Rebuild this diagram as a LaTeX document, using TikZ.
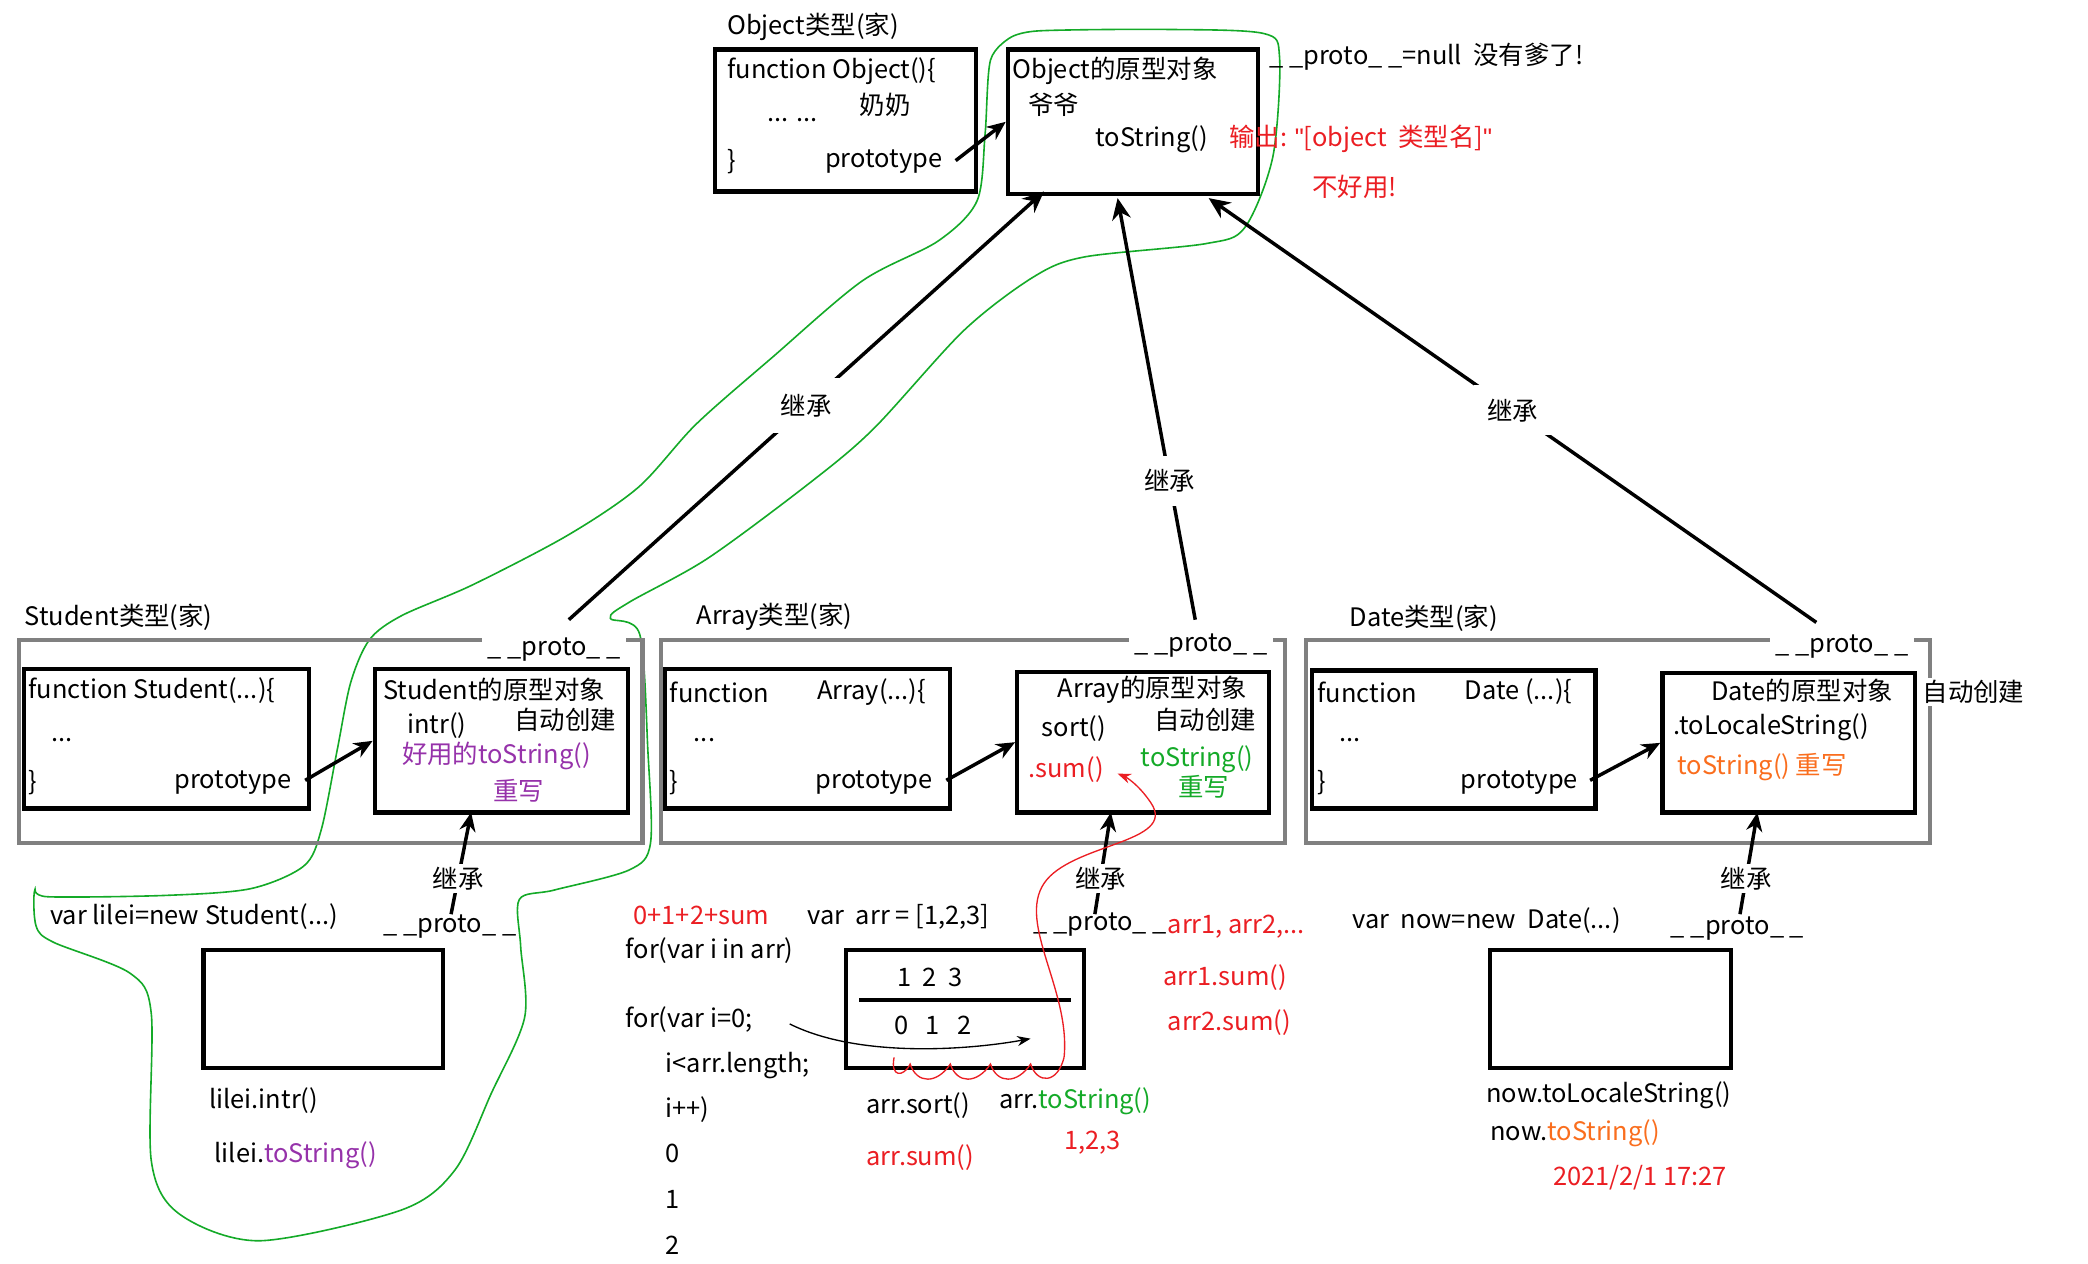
\documentclass[tikz,border=0pt]{standalone}
\usepackage{fontspec}
\setmainfont{Noto Sans CJK SC}
\newfontfamily\qfont{Liberation Sans}
\usetikzlibrary{arrows.meta}
\definecolor{myred}{RGB}{235,30,35}
\definecolor{mygreen}{RGB}{20,170,40}
\definecolor{mypurple}{RGB}{150,50,170}
\definecolor{myorange}{RGB}{250,110,30}
\definecolor{mygray}{RGB}{128,128,128}
\begin{document}
\begin{tikzpicture}[x=0.5pt,y=-0.5pt,
 t/.style={anchor=west,inner sep=0pt,font=\fontsize{9.5}{11}\selectfont},
 box/.style={draw=black,line width=1.6pt,inner sep=0pt},
 gbox/.style={draw=mygray,line width=1.6pt,inner sep=0pt},
 arr/.style={line width=1.3pt,-{Stealth[length=7pt,width=6pt]}},
 inh/.style={line width=1.3pt,-{Stealth[length=8pt,width=7pt]}},
 lbl/.style={fill=white,inner sep=3pt,font=\fontsize{9.5}{11}\selectfont}]
\useasboundingbox (0,0) rectangle (1560,944);
\fill[white] (0,0) rectangle (1560,944);
\newcommand\bx[6]{\node[#5,minimum width={(#3-#1)*0.5pt},minimum height={(#4-#2)*0.5pt}] (#6) at ({(#1+#3)/2},{(#2+#4)/2}) {};}
% green outline
\draw[mygreen,line width=0.6pt] plot[smooth,tension=0.5] coordinates{(755,28)(777,23)(872,22)(944,25)(956,43)(951,117)(930,170)(901,182)(810,192)(772,207)(720,247)(653,320)(606,360)(529,417)(470,450)(456,462)(478,474)(484,560)(486,630)(470,650)(414,665)(388,672)(389,707)(392,760)(367,817)(340,874)(300,904)(194,927)(134,907)(113,867)(113,757)(97,727)(40,704)(27,692)(26,665)(36,670)(123,669)(187,664)(227,647)(240,620)(252,560)(262,510)(276,478)(300,460)(353,437)(424,400)(477,364)(520,317)(577,267)(644,210)(701,180)(730,150)(736,100)(740,45)(755,28)};
% Object
\node[t] at (543,20) {Object类型(家)};
\bx{534}{37}{729}{143}{box}{o1}
\bx{753}{37}{940}{145}{box}{o2}
\node[t] at (543,53) {function Object()\{};
\node[t] at (642,78) {奶奶};
\node[t] at (573,90) {... ...};
\node[t] at (543,121) {\}};
\node[t] at (616,121) {prototype};
\node[t] at (756,53) {Object的原型对象};
\node[t] at (768,78) {爷爷};
\node[t] at (818,104) {toString()};
\coordinate (op) at (714,120);
\draw[arr] (op) -- (o2.west);
\node[t] at (948,42) {\_ \_proto\_ \_=null \ 没有爹了!};
\node[t,text=myred] at (918,104) {输出: {\qfont\symbol{34}}[object \ 类型名]{\qfont\symbol{34}}};
\node[t,text=myred] at (980,140) {不好用!};
% Student
\bx{14}{478}{480}{630}{gbox}{sg}
\node[t] at (18,461) {Student类型(家)};
\node[t,fill=white,inner sep=2pt] at (360,485) {\_ \_proto\_ \_};
\bx{18}{500}{231}{604}{box}{s1}
\bx{280}{500}{469}{607}{box}{s2}
\node[t] at (21,516) {function Student(...)\{};
\node[t] at (38,553) {...};
\node[t] at (21,585) {\}};
\node[t] at (130,585) {prototype};
\node[t] at (286,515) {Student的原型对象};
\node[t] at (304,542) {intr()};
\node[t] at (384,538) {自动创建};
\node[t,text=mypurple] at (300,565) {好用的toString()};
\node[t,text=mypurple] at (368,591) {重写};
\coordinate (sp) at (228,583);
\draw[arr] (sp) -- (s2.west);
% Array
\bx{494}{478}{960}{630}{gbox}{ag}
\node[t] at (520,461) {Array类型(家)};
\node[t,fill=white,inner sep=2pt] at (843,482) {\_ \_proto\_ \_};
\bx{497}{500}{710}{604}{box}{a1}
\bx{760}{502}{948}{607}{box}{a2}
\node[t] at (500,517) {function};
\node[t] at (610,517) {Array(...)\{};
\node[t] at (518,553) {...};
\node[t] at (500,585) {\}};
\node[t] at (609,585) {prototype};
\node[t] at (790,515) {Array的原型对象};
\node[t] at (778,544) {sort()};
\node[t] at (862,538) {自动创建};
\node[t,text=myred] at (768,575) {.sum()};
\node[t,text=mygreen] at (852,567) {toString()};
\node[t,text=mygreen] at (880,588) {重写};
\coordinate (ap) at (707,583);
\draw[arr] (ap) -- (a2.west);
% Date
\bx{976}{478}{1442}{630}{gbox}{dg}
\node[t] at (1008,462) {Date类型(家)};
\node[t,fill=white,inner sep=2pt] at (1322,483) {\_ \_proto\_ \_};
\bx{980}{501}{1192}{604}{box}{d1}
\bx{1242}{503}{1431}{607}{box}{d2}
\node[t] at (984,517) {function};
\node[t] at (1094,517) {Date (...)\{};
\node[t] at (1000,553) {...};
\node[t] at (984,585) {\}};
\node[t] at (1091,585) {prototype};
\node[t,fill=white,inner sep=1pt] at (1276,516) {Date的原型对象};
\node[t,fill=white,inner sep=1pt] at (1434,517) {自动创建};
\node[t] at (1250,543) {.toLocaleString()};
\node[t,text=myorange] at (1253,573) {toString() 重写};
\coordinate (dp) at (1188,583);
\draw[arr] (dp) -- (d2.west);
% inheritance to Object
\coordinate (si) at (425,463); \coordinate (oa) at (780,143);
\coordinate (ai) at (893,463); \coordinate (ob) at (835,148);
\coordinate (di) at (1357,465); \coordinate (oc) at (903,148);
\draw[inh] (si) -- node[lbl,pos=0.5,inner sep=6pt]{继承} (oa);
\draw[inh] (ai) -- node[lbl,pos=0.33,inner sep=5pt]{继承} (ob);
\draw[inh] (di) -- node[lbl,pos=0.5,inner sep=5pt]{继承} (oc);
% Student instance
\coordinate (sx) at (337,683); \coordinate (sy) at (352,607);
\draw[arr] (sx) -- node[lbl,pos=0.35,inner sep=1pt]{继承} (sy);
\node[t] at (37,685) {var lilei=new Student(...)};
\node[t] at (286,692) {\_ \_proto\_ \_};
\bx{152}{710}{331}{798}{box}{s3}
\node[t] at (156,822) {lilei.intr()};
\node[t] at (160,863) {lilei.\textcolor{mypurple}{toString()}};
% Array instance
\coordinate (ax) at (818,683); \coordinate (ay) at (830,607);
\draw[arr] (ax) -- node[lbl,pos=0.35,inner sep=1pt]{继承} (ay);
\node[t,text=myred] at (473,684) {0+1+2+sum};
\node[t] at (603,685) {var \ arr = [1,2,3]};
\node[t] at (772,691) {\_ \_proto\_ \_};
\node[t,text=myred] at (872,692) {arr1, arr2,...};
\node[t] at (467,710) {for(var i in arr)};
\bx{632}{710}{810}{798}{box}{a3}
\draw[line width=1.6pt] (642,747) -- (800,747);
\node[t] at (670,730) {1 \ 2 \ 3};
\node[t] at (668,766) {0 \ \ 1 \ \ 2};
\node[t] at (467,762) {for(var i=0;};
\node[t] at (497,796) {i<arr.length;};
\node[t] at (497,829) {i++)};
\node[t] at (497,862) {0};
\node[t] at (497,896) {1};
\node[t] at (497,930) {2};
\node[t] at (647,826) {arr.sort()};
\node[t] at (746,823) {arr.\textcolor{mygreen}{toString()}};
\node[t,text=myred] at (795,854) {1,2,3};
\node[t,text=myred] at (647,865) {arr.sum()};
\node[t,text=myred] at (869,730) {arr1.sum()};
\node[t,text=myred] at (872,764) {arr2.sum()};
\draw[line width=0.5pt,-{Stealth[length=5pt]}] (590,765) .. controls (640,790) and (720,785) .. (770,776);
\draw[myred,line width=0.5pt,-{Stealth[length=5pt]}] (795,790) .. controls (800,740) and (760,690) .. (780,660) .. controls (800,630) and (880,630) .. (860,600) .. controls (850,585) and (840,580) .. (835,578);
\draw[myred,line width=0.5pt] (795,790) .. controls (790,810) and (775,810) .. (770,795) .. controls (760,810) and (745,810) .. (740,795) .. controls (730,810) and (715,810) .. (710,795) .. controls (700,810) and (685,810) .. (680,795) .. controls (675,805) and (665,805) .. (668,790);
% Date instance
\coordinate (dx) at (1300,683); \coordinate (dy) at (1313,607);
\draw[arr] (dx) -- node[lbl,pos=0.35,inner sep=1pt]{继承} (dy);
\node[t] at (1010,688) {var \ now=new \ Date(...)};
\node[t] at (1248,694) {\_ \_proto\_ \_};
\bx{1113}{710}{1293}{798}{box}{d3}
\node[t] at (1110,818) {now.toLocaleString()};
\node[t] at (1113,847) {now.\textcolor{myorange}{toString()}};
\node[t,text=myred] at (1160,880) {2021/2/1 17:27};
\end{tikzpicture}
\end{document}
